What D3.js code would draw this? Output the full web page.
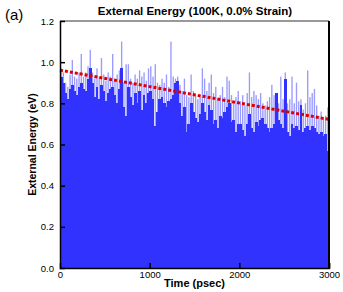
<!DOCTYPE html>
<html>
<head>
<meta charset="utf-8">
<script src="https://cdn.jsdelivr.net/npm/d3@7"></script>
<style>
  body { margin: 0; background: #fff; }
  text { font-family: "Liberation Sans", Arial, sans-serif; }
</style>
</head>
<body>
<div id="chart"></div>
<script>
// time step between samples (psec)
var step = 25;

// upper envelope of the noisy trace (light blue tops), eV
var upper = [0.97,0.95,0.90,0.88,0.94,1.01,0.93,0.92,0.95,1.04,
  0.93,0.95,0.98,1.06,0.95,0.92,0.97,0.93,1.02,0.94,
  0.91,0.95,0.93,1.04,0.92,0.94,0.96,1.10,0.90,0.99,
  0.99,0.92,0.90,0.94,0.92,0.96,0.93,0.95,0.91,0.97,
  0.98,0.93,0.99,0.90,0.89,0.92,0.90,0.94,0.88,1.10,
  0.93,0.92,0.93,0.89,0.86,0.92,0.84,0.83,0.94,0.86,
  0.84,0.82,0.83,0.97,0.92,0.86,0.90,0.94,0.85,0.88,
  0.82,0.84,0.88,0.83,0.93,0.91,0.84,0.80,0.83,0.86,
  0.81,0.84,0.79,0.85,0.95,0.83,0.86,0.84,0.82,0.85,
  0.80,0.79,0.81,0.83,0.89,0.84,0.85,0.80,0.93,0.82,
  0.95,0.80,0.82,0.93,0.80,0.90,0.81,0.82,0.77,0.80,
  0.96,0.83,0.85,0.87,0.79,0.74,0.76,0.73,0.74,0.78];

// lower envelope (dark blue tops), eV
var lower = [0.93,0.90,0.85,0.82,0.87,0.89,0.86,0.84,0.88,0.90,
  0.87,0.86,0.92,0.97,0.90,0.83,0.88,0.82,0.89,0.86,
  0.81,0.85,0.87,0.88,0.84,0.80,0.87,0.97,0.78,0.74,
  0.88,0.83,0.79,0.85,0.80,0.86,0.77,0.84,0.80,0.85,
  0.86,0.82,0.69,0.76,0.82,0.83,0.80,0.78,0.81,0.82,
  0.84,0.90,0.91,0.80,0.74,0.78,0.66,0.70,0.80,0.76,
  0.73,0.71,0.75,0.80,0.76,0.72,0.79,0.77,0.70,0.72,
  0.68,0.74,0.73,0.76,0.78,0.80,0.71,0.72,0.66,0.70,
  0.70,0.67,0.64,0.70,0.75,0.68,0.66,0.71,0.69,0.72,
  0.73,0.70,0.68,0.66,0.68,0.70,0.85,0.72,0.70,0.68,
  0.92,0.66,0.64,0.70,0.68,0.69,0.67,0.79,0.66,0.68,
  0.69,0.67,0.69,0.68,0.66,0.65,0.66,0.64,0.65,0.57];

// linear fit (red dotted line)
var fitX = [0, 3000];
var fitY = [0.961, 0.722];

var xTicks = [0, 1000, 2000, 3000];
var yTicks = [0.0, 0.2, 0.4, 0.6, 0.8, 1.0, 1.2];

var W = 343, H = 292;
var margin = {top: 21, right: 14, bottom: 24, left: 60};
var width = 329 - margin.left,
    height = 268 - margin.top;

var svg = d3.select("#chart").append("svg")
  .attr("width", W).attr("height", H);

var g = svg.append("g")
  .attr("transform", "translate(" + margin.left + "," + margin.top + ")");

var x = d3.scaleLinear().domain([0, 3000]).range([0, width]);
var y = d3.scaleLinear().domain([0, 1.2]).range([height, 0]);

var bw = x(step) - x(0);

// light blue spikes (thin, white shows between them)
g.selectAll(".hi").data(upper).enter().append("rect")
  .attr("x", function(d, i) { return x(i * step) + bw * 0.2; })
  .attr("y", function(d) { return y(d); })
  .attr("width", bw * 0.6)
  .attr("height", function(d) { return height - y(d); })
  .style("fill", "#9a9aff");

// dark blue body
g.selectAll(".lo").data(lower).enter().append("rect")
  .attr("x", function(d, i) { return x(i * step) - 0.3; })
  .attr("y", function(d) { return y(d); })
  .attr("width", bw + 0.6)
  .attr("height", function(d) { return height - y(d); })
  .style("fill", "#3232ff")
  .attr("shape-rendering", "crispEdges");

// fit line
g.append("path")
  .datum(fitX.map(function(v, i) { return [v, fitY[i]]; }))
  .attr("d", d3.line().x(function(d) { return x(d[0]); }).y(function(d) { return y(d[1]); }))
  .style("fill", "none")
  .style("stroke", "#dd0000")
  .style("stroke-width", 3)
  .style("stroke-dasharray", "3,2");

// frame: top gray, right black
g.append("line").attr("x1", 0).attr("x2", width).attr("y1", 0).attr("y2", 0)
  .style("stroke", "#999").style("stroke-width", 2);
g.append("line").attr("x1", width).attr("x2", width).attr("y1", 0).attr("y2", height)
  .style("stroke", "#000").style("stroke-width", 2);

// axes with inward ticks
var yAxis = g.append("g")
  .call(d3.axisLeft(y).tickValues(yTicks).tickSize(-5).tickPadding(6).tickFormat(d3.format(".1f")));
var xAxis = g.append("g")
  .attr("transform", "translate(0," + height + ")")
  .call(d3.axisBottom(x).tickValues(xTicks).tickSize(-5).tickPadding(3).tickFormat(d3.format("d")));

[yAxis, xAxis].forEach(function(a) {
  a.select(".domain").style("stroke", "#000").style("stroke-width", 1.5);
  a.selectAll(".tick line").style("stroke", "#000").style("stroke-width", 1.5);
  a.selectAll("text").style("font-size", "9.5px").style("fill", "#000")
    .style("font-family", "'Liberation Sans', Arial, sans-serif");
});
xAxis.selectAll(".tick").filter(function(d) { return d === 0; }).select("line").remove();
yAxis.selectAll(".tick").filter(function(d) { return d === 0; }).select("line").remove();
yAxis.selectAll(".tick").filter(function(d) { return d === 1.2; }).select("line").remove();

// titles
svg.append("text").attr("x", 195).attr("y", 15).attr("text-anchor", "middle")
  .style("font-size", "11.5px").style("font-weight", "bold")
  .text("External Energy (100K, 0.0% Strain)");
svg.append("text").attr("x", 5).attr("y", 20)
  .style("font-size", "15px")
  .text("(a)");
svg.append("text").attr("x", margin.left + width / 2).attr("y", 287).attr("text-anchor", "middle")
  .style("font-size", "11px").style("font-weight", "bold")
  .text("Time (psec)");
svg.append("text").attr("transform", "translate(36," + (margin.top + height / 2) + ") rotate(-90)")
  .attr("text-anchor", "middle")
  .style("font-size", "10.5px").style("font-weight", "bold")
  .text("External Energy (eV)");
</script>
</body>
</html>
